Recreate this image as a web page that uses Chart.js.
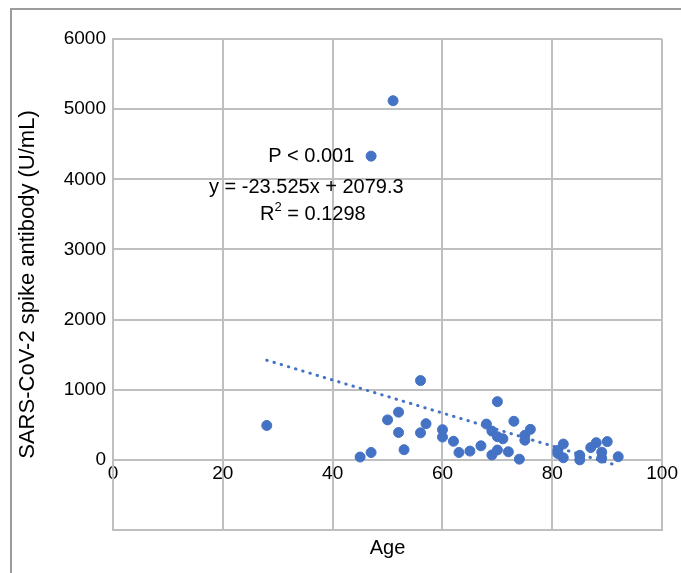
<!DOCTYPE html>
<html>
<head>
<meta charset="utf-8">
<script src="https://cdn.jsdelivr.net/npm/chart.js@4/dist/chart.umd.min.js"></script>
<style>
  html, body { margin: 0; padding: 0; background: #fff; overflow: hidden; }
  #wrap { position: relative; width: 681px; height: 573px; }
  #frame { position: absolute; left: 10px; top: 8px; width: 2000px; height: 2000px;
           border-left: 2px solid #9c9c9c; border-top: 2px solid #9c9c9c; }
  #chart { position: absolute; left: 0; top: 0; }
</style>
</head>
<body>
<div id="wrap">
  <div id="frame"></div>
  <canvas id="chart" width="681" height="573"></canvas>
</div>
<script>
// ages and antibody levels
const ages = [28, 45, 47, 47, 50, 51, 52, 52, 53, 56, 56, 57, 60, 60, 62, 63, 65, 67,
              68, 69, 70, 71, 69, 70, 72, 73, 74, 75, 75, 76, 70,
              81, 81, 82, 82, 85, 85, 87, 88, 89, 89, 90, 92];
const antibody = [490, 40, 105, 4330, 570, 5120, 680, 390, 145, 1130, 385, 515, 430, 325, 265, 105, 125, 200,
                  510, 410, 330, 300, 70, 140, 115, 550, 10, 350, 280, 435, 830,
                  135, 90, 225, 30, 65, 0, 175, 245, 110, 25, 260, 45];

// linear trend given on the chart
const slope = -23.525;
const intercept = 2079.3;

// annotation texts (^ marks a superscript) and where they sit (data units)
const noteLines = ["P < 0.001", "y = -23.525x + 2079.3", "R^2 = 0.1298"];
const noteX = [36.1, 35.2, 36.4];
const noteY = [4330, 3890, 3500];

const xTicks = [0, 20, 40, 60, 80, 100];
const yTicks = [-1000, 0, 1000, 2000, 3000, 4000, 5000, 6000];

const blue = "#4472C4";
const gridCol = "#bfbfbf";
const fontFam = "'Liberation Sans', Arial, sans-serif";

const points = ages.map((a, i) => ({ x: a, y: antibody[i] }));
const xMin = Math.min(...ages), xMax = Math.max(...ages);
const trend = [xMin, xMax].map(x => ({ x: x, y: slope * x + intercept }));

// draws the P value / equation text, with a raised small "2" where ^ is used
const notesPlugin = {
  id: "notes",
  afterDatasetsDraw(chart) {
    const ctx = chart.ctx;
    const xs = chart.scales.x, ys = chart.scales.y;
    const big = "20px " + fontFam, small = "13px " + fontFam;
    ctx.save();
    ctx.fillStyle = "#000";
    ctx.textAlign = "left";
    ctx.textBaseline = "middle";
    noteLines.forEach((t, i) => {
      const parts = t.split("^");
      const pieces = [];
      pieces.push({ s: parts[0], f: big, dy: 0 });
      if (parts.length > 1) {
        pieces.push({ s: parts[1].charAt(0), f: small, dy: -7 });
        pieces.push({ s: parts[1].slice(1), f: big, dy: 0 });
      }
      let w = 0;
      pieces.forEach(p => { ctx.font = p.f; p.w = ctx.measureText(p.s).width; w += p.w; });
      let x = xs.getPixelForValue(noteX[i]) - w / 2;
      const y = ys.getPixelForValue(noteY[i]);
      pieces.forEach(p => { ctx.font = p.f; ctx.fillText(p.s, x, y + p.dy); x += p.w; });
    });
    ctx.restore();
  }
};

const ctx = document.getElementById("chart").getContext("2d");
new Chart(ctx, {
  type: "scatter",
  data: {
    datasets: [
      { data: points, backgroundColor: blue, borderColor: blue, pointRadius: 5, pointHoverRadius: 5, order: 1 },
      { type: "line", data: trend, showLine: true, borderColor: blue, borderWidth: 3,
        borderDash: [0.5, 7], borderCapStyle: "round", pointRadius: 0, fill: false, order: 2 }
    ]
  },
  options: {
    responsive: false,
    animation: false,
    events: [],
    layout: { padding: { top: 39, right: 18, left: 0, bottom: 0 } },
    plugins: { legend: { display: false }, tooltip: { enabled: false } },
    scales: {
      x: {
        type: "linear", position: "bottom", min: 0, max: 100,
        afterBuildTicks: s => { s.ticks = xTicks.map(v => ({ value: v })); },
        grid: { color: gridCol, lineWidth: 2, drawTicks: false },
        border: { color: gridCol, width: 2 },
        ticks: { display: false },
        title: { display: true, text: "Age", color: "#000",
                 font: { family: fontFam, size: 20 }, padding: { top: 4, bottom: 13 } },
        afterFit: s => { s.height = 43; }
      },
      xLabels: {
        type: "linear", position: { y: 0 }, min: 0, max: 100,
        afterBuildTicks: s => { s.ticks = xTicks.map(v => ({ value: v })); },
        grid: { display: false, drawTicks: false },
        border: { display: false },
        ticks: { color: "#000", font: { family: fontFam, size: 19 }, padding: 3, maxRotation: 0 }
      },
      y: {
        min: -1000, max: 6000,
        afterBuildTicks: s => { s.ticks = yTicks.map(v => ({ value: v })); },
        grid: { color: gridCol, lineWidth: 2, drawTicks: false },
        border: { color: gridCol, width: 2 },
        ticks: { color: "#000", font: { family: fontFam, size: 19 }, padding: 7,
                 callback: v => (v < 0 ? "" : String(v)) },
        title: { display: true, text: "SARS-CoV-2 spike antibody (U/mL)", color: "#000",
                 font: { family: fontFam, size: 22 }, padding: { top: 15, bottom: 0 } },
        afterFit: s => { s.width = 113; }
      }
    }
  },
  plugins: [notesPlugin]
});
</script>
</body>
</html>
